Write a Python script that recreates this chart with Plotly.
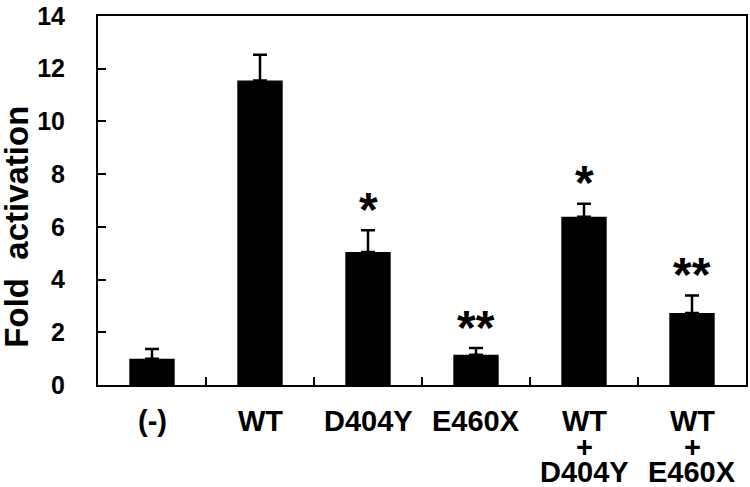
import plotly.graph_objects as go

categories = ["(-)", "WT", "D404Y", "E460X", "WT + D404Y", "WT + E460X"]
label_lines = [["(-)"], ["WT"], ["D404Y"], ["E460X"], ["WT", "+", "D404Y"], ["WT", "+", "E460X"]]
values = [1.0, 11.55, 5.05, 1.15, 6.38, 2.73]
errors = [0.37, 0.98, 0.82, 0.25, 0.5, 0.67]
stars = ["", "", "*", "**", "*", "**"]
y_ticks = [0, 2, 4, 6, 8, 10, 12, 14]

FONT = "Arial, 'Liberation Sans', sans-serif"

fig = go.Figure()
fig.add_trace(go.Bar(
    x=categories, y=values,
    marker=dict(color="black", line=dict(width=0)),
    width=0.42,
    error_y=dict(type="data", symmetric=False, array=errors, arrayminus=[0]*len(errors),
                 color="black", thickness=2.5, width=7),
))

annotations = []
for c, v, e, s in zip(categories, values, errors, stars):
    if s:
        annotations.append(dict(x=c, y=v + e, xref="x", yref="y", text=s, showarrow=False,
                                yanchor="middle", yshift=21,
                                font=dict(family=FONT, size=48, color="black", weight="bold")))

line_shifts = [-36, -62, -87]
for c, lines in zip(categories, label_lines):
    for i, t in enumerate(lines):
        annotations.append(dict(x=c, y=0, xref="x", yref="paper", text=t, showarrow=False,
                                yanchor="middle", yshift=line_shifts[i], borderpad=0,
                                font=dict(family=FONT, size=29, color="black", weight="bold")))

annotations.append(dict(x=-0.126, y=0.43, xref="paper", yref="paper",
                        text="Fold\u00a0\u00a0activation", textangle=-90, showarrow=False,
                        xanchor="center", yanchor="middle", borderpad=0,
                        font=dict(family=FONT, size=33, color="black", weight="bold")))

fig.update_layout(
    width=750, height=487,
    margin=dict(l=98, r=2, t=12, b=102),
    plot_bgcolor="white", paper_bgcolor="white",
    showlegend=False,
    annotations=annotations,
    xaxis=dict(type="category", showline=True, linecolor="black", linewidth=2, mirror=True,
               ticks="inside", tickson="boundaries", ticklen=8, tickwidth=2, tickcolor="black",
               showticklabels=False, showgrid=False, zeroline=False),
    yaxis=dict(range=[0, 14.0001], tickvals=y_ticks, showline=True, linecolor="black", linewidth=2,
               mirror=True, ticks="inside", ticklen=8, tickwidth=2, tickcolor="black",
               ticklabelstandoff=26, ticklabeloverflow="allow",
               tickfont=dict(family=FONT, size=25, color="black", weight="bold"),
               showgrid=False, zeroline=False),
)

fig.write_html("out.html", config={"displayModeBar": False},
               post_script="document.body.style.margin='0';document.body.style.overflow='hidden';")
